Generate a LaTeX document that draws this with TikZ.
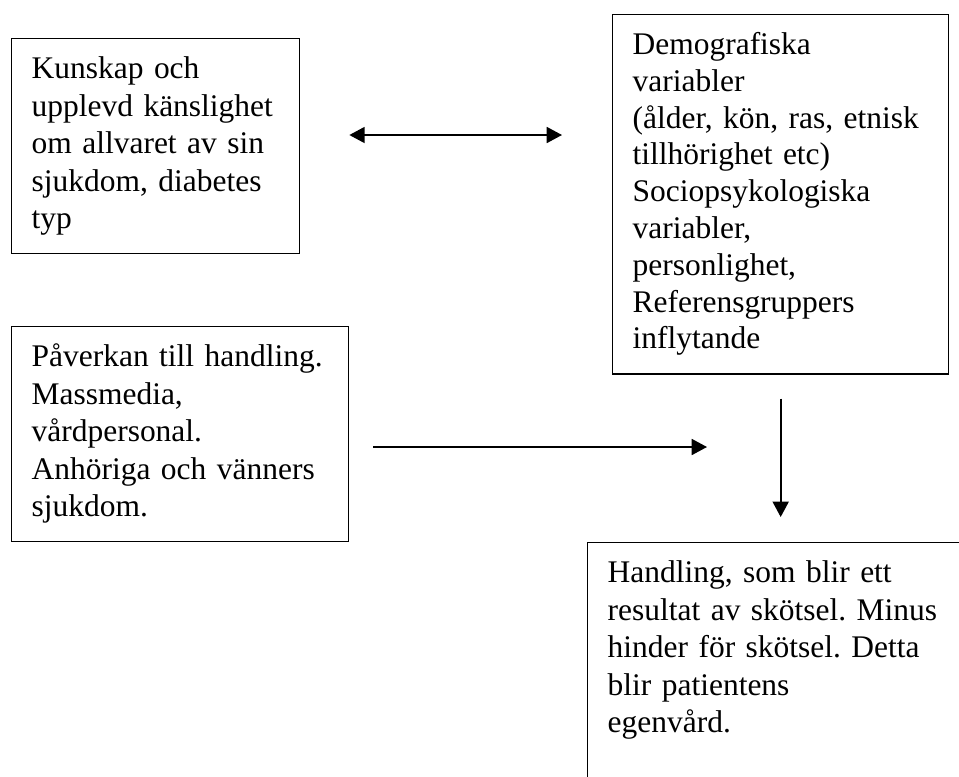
\documentclass[tikz,border=0pt]{standalone}
\usepackage{fontspec}
\setmainfont{Liberation Serif}
\usetikzlibrary{arrows.meta,positioning}
\newcommand{\boxfont}{\fontsize{23.6pt}{28.05pt}\selectfont\frenchspacing}
\newcommand{\tightfont}{\fontsize{23.6pt}{27.6pt}\selectfont\frenchspacing}
\tikzset{textbox/.style={draw, line width=1pt, anchor=north west, align=left, inner xsep=15pt, inner ysep=10.5pt, font=\boxfont, execute at begin node=\strut, execute at end node=\strut}}
\tikzset{openbox/.style={textbox, execute at end node={\strut\rule[-75pt]{0pt}{0pt}}}}
\tikzstyle{arrow} = [-{Triangle[length=11.5pt, width=12pt]}, line width=1.3pt]
\tikzstyle{biarrow} = [{Triangle[length=11.5pt, width=12pt]}-{Triangle[length=11.5pt, width=12pt]}, line width=1.3pt]

\begin{document}
\begin{tikzpicture}[x=0.75pt, y=-0.75pt]
	\useasboundingbox (0,0) rectangle (959,776);
	% Nodes
	\node (kunskap) [textbox, text width=186pt] at (11,38) {Kunskap och\\ upplevd känslighet\\ om allvaret av sin\\ sjukdom, diabetes\\ typ};

	\node (demografi) [textbox, text width=222pt, font=\tightfont] at (612,14) {Demografiska\\ variabler\\ (ålder, kön, ras, etnisk\\ tillhörighet etc)\\ Sociopsykologiska\\ variabler,\\ personlighet,\\ Referensgruppers\\ inflytande};

	\node (paverkan) [textbox, text width=222.75pt] at (11,326) {Påverkan till handling.\\ Massmedia,\\ vårdpersonal.\\ Anhöriga och vänners\\ sjukdom.};

	\node (handling) [openbox, text width=259.5pt] at (587,542) {Handling, som blir ett\\ resultat av skötsel. Minus\\ hinder för skötsel. Detta\\ blir patientens\\ egenvård.};

	\coordinate (pilrad) at (0,135);
	\coordinate (handpil) at (707,447);

	% Connectors
	\draw [biarrow, shorten <=36.75pt, shorten >=37.5pt] (kunskap.east |- pilrad) -- (demografi.west |- pilrad);
	\draw [arrow, shorten <=18pt] (paverkan.east |- handpil) -- (handpil);
	\draw [arrow, shorten <=18pt, shorten >=18.75pt] (demografi.south) -- (handling.north);

\end{tikzpicture}
\end{document}
